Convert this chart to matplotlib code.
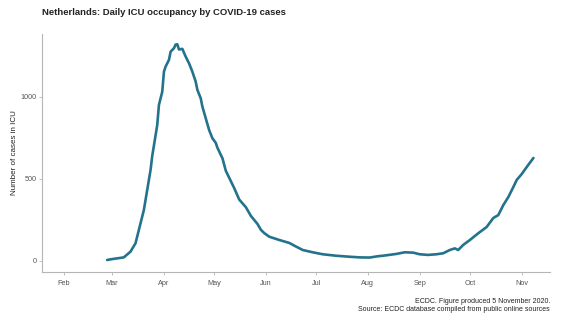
import matplotlib
matplotlib.use("Agg")
import matplotlib.pyplot as plt
import matplotlib.dates as mdates
import numpy as np

plt.rcParams["font.family"] = ["Liberation Sans", "DejaVu Sans"]

# ICU occupancy (date, cases)
dates = [
    "2020-02-27", "2020-02-29", "2020-03-08", "2020-03-12", "2020-03-15", "2020-03-17",
    "2020-03-20", "2020-03-22", "2020-03-24", "2020-03-25", "2020-03-28", "2020-03-29",
    "2020-03-31", "2020-04-01", "2020-04-02", "2020-04-03", "2020-04-04", "2020-04-05",
    "2020-04-07", "2020-04-08", "2020-04-09", "2020-04-10", "2020-04-12", "2020-04-14",
    "2020-04-16", "2020-04-18", "2020-04-20", "2020-04-21", "2020-04-23", "2020-04-24",
    "2020-04-26", "2020-04-28", "2020-04-30", "2020-05-02", "2020-05-03", "2020-05-06",
    "2020-05-08", "2020-05-13", "2020-05-16", "2020-05-20", "2020-05-23", "2020-05-27",
    "2020-05-29", "2020-05-31", "2020-06-03", "2020-06-09", "2020-06-15", "2020-06-19",
    "2020-06-23", "2020-06-29", "2020-07-05", "2020-07-13", "2020-07-21", "2020-07-27",
    "2020-08-02", "2020-08-07", "2020-08-10", "2020-08-18", "2020-08-23", "2020-08-28",
    "2020-09-01", "2020-09-06", "2020-09-11", "2020-09-15", "2020-09-19", "2020-09-22",
    "2020-09-24", "2020-09-27", "2020-10-01", "2020-10-06", "2020-10-11", "2020-10-15",
    "2020-10-18", "2020-10-21", "2020-10-24", "2020-10-27", "2020-10-29", "2020-11-01",
    "2020-11-04", "2020-11-08",
]
cases = [
    6, 10, 22, 57, 108, 189,
    311, 433, 555, 640, 829, 951,
    1032, 1154, 1185, 1205, 1226, 1276,
    1297, 1319, 1321, 1289, 1293, 1246,
    1205, 1154, 1093, 1043, 992, 941,
    870, 799, 748, 720, 690, 626,
    550, 445, 375, 328, 275, 225,
    190, 170, 148, 128, 110, 88,
    67, 53, 41, 32, 26, 22,
    21, 29, 32, 43, 53, 51,
    41, 37, 41, 47, 67, 77,
    67, 98, 128, 169, 207, 262,
    280, 341, 390, 451, 494, 530,
    573, 628,
]

x = np.array(dates, dtype="datetime64[D]")
y = np.array(cases)

fig = plt.figure(figsize=(5.66, 3.17), dpi=100)
ax = fig.add_axes([0.074, 0.142, 0.898, 0.751])

ax.plot(x, y, color="#24738d", linewidth=1.9, solid_capstyle="round", solid_joinstyle="round")

ax.set_xlim(np.datetime64("2020-01-19"), np.datetime64("2020-11-18"))
ax.set_ylim(-67, 1384)
ax.set_yticks([0, 500, 1000])
ax.xaxis.set_major_locator(mdates.MonthLocator())
ax.xaxis.set_major_formatter(mdates.DateFormatter("%b"))

for s in ["top", "right"]:
    ax.spines[s].set_visible(False)
for s in ["left", "bottom"]:
    ax.spines[s].set_color("#b5b5b5")
    ax.spines[s].set_linewidth(0.8)
ax.tick_params(colors="#b5b5b5", labelcolor="#555555", labelsize=5.2, length=2.5, width=0.6)
ax.tick_params(axis="y", pad=1.5)

ax.set_ylabel("Number of cases in ICU", fontsize=5.8, color="#222222")
ax.yaxis.set_label_coords(-0.047, 0.5)

fig.text(0.074, 0.959, "Netherlands: Daily ICU occupancy by COVID-19 cases",
         fontsize=6.8, fontweight="bold", color="#222222", va="center")
fig.text(0.972, 0.050, "ECDC. Figure produced 5 November 2020.",
         fontsize=5.0, color="#222222", ha="right", va="center")
fig.text(0.972, 0.025, "Source: ECDC database compiled from public online sources",
         fontsize=5.0, color="#222222", ha="right", va="center")

fig.savefig("out.png", dpi=100)
